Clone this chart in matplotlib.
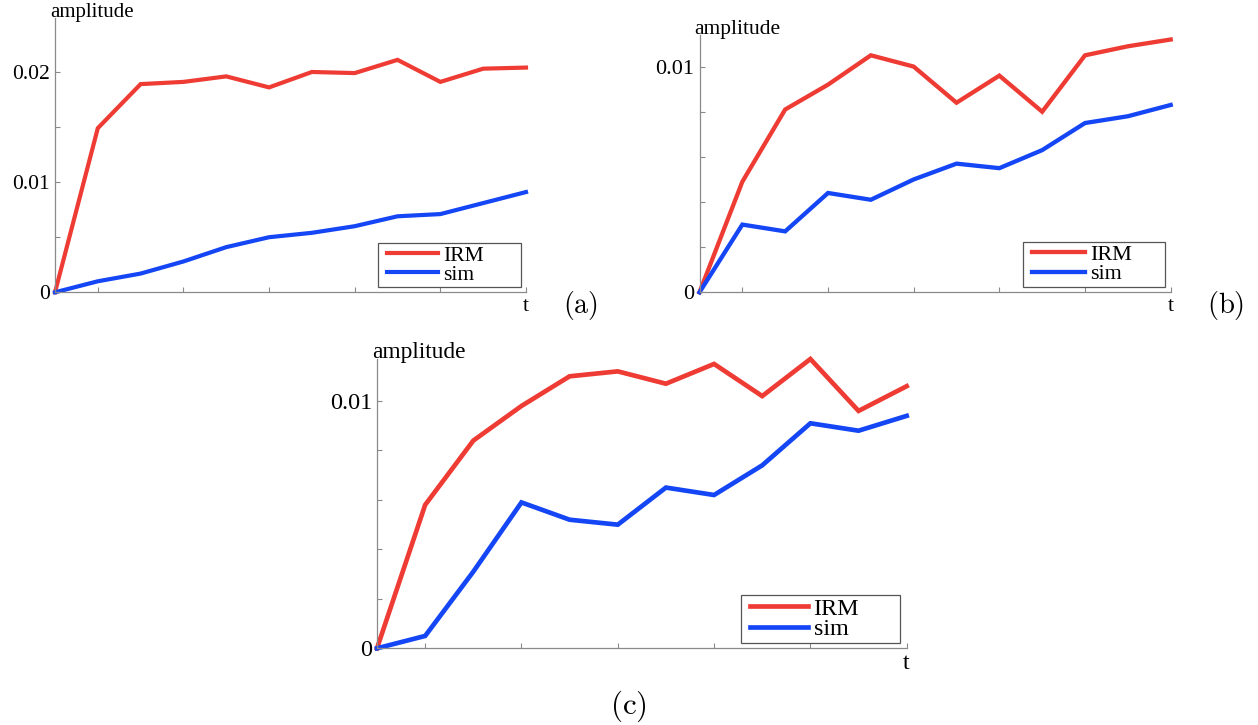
import numpy as np
import matplotlib
matplotlib.use("Agg")
import matplotlib.pyplot as plt
from matplotlib.lines import Line2D
from matplotlib.legend_handler import HandlerLine2D

# ---- data ----
t = np.arange(12)

irm_a = [0, 0.0149, 0.0189, 0.0191, 0.0196, 0.0186, 0.0200, 0.0199, 0.0211, 0.0191, 0.0203, 0.0204]
sim_a = [0, 0.0010, 0.0017, 0.0028, 0.0041, 0.0050, 0.0054, 0.0060, 0.0069, 0.0071, 0.0081, 0.0091]

irm_b = [0, 0.0049, 0.0081, 0.0092, 0.0105, 0.0100, 0.0084, 0.0096, 0.0080, 0.0105, 0.0109, 0.0112]
sim_b = [0, 0.0030, 0.0027, 0.0044, 0.0041, 0.0050, 0.0057, 0.0055, 0.0063, 0.0075, 0.0078, 0.0083]

irm_c = [0, 0.0058, 0.0084, 0.0098, 0.0110, 0.0112, 0.0107, 0.0115, 0.0102, 0.0117, 0.0096, 0.0106]
sim_c = [0, 0.0005, 0.0031, 0.0059, 0.0052, 0.0050, 0.0065, 0.0062, 0.0074, 0.0091, 0.0088, 0.0094]

series_names = ["IRM", "sim"]
xticks = [1, 3, 5, 7, 9, 11]
yticks_a = [0, 0.01, 0.02]
ylabels_a = ["0", "0.01", "0.02"]
yminor_a = [0.005, 0.015]
yticks_bc = [0, 0.01]
ylabels_bc = ["0", "0.01"]
yminor_bc = [0.002, 0.004, 0.006, 0.008]
panel_labels = ["(a)", "(b)", "(c)"]

# ---- style ----
plt.rcParams["font.family"] = ["Liberation Serif", "DejaVu Serif"]
plt.rcParams["mathtext.fontset"] = "cm"

RED = "#EE3B33"
BLUE = "#1446F5"
GRAY = "#8a8a8a"
FW, FH = 1258, 725

fig = plt.figure(figsize=(FW / 100, FH / 100), dpi=100)


def frac_rect(l, r, b, tp):
    return [l / FW, 1 - b / FH, (r - l) / FW, (b - tp) / FH]


panels = [
    dict(irm=irm_a, sim=sim_a, ymax=0.0249, yt=yticks_a, yl=ylabels_a, ym=yminor_a,
         px=(55, 526, 292.3, 18), leg=(378.3, 520.7, 287.3), lab_xy=(580, 306), s=1.0),
    dict(irm=irm_b, sim=sim_b, ymax=0.0114, yt=yticks_bc, yl=ylabels_bc, ym=yminor_bc,
         px=(699.5, 1170.7, 292.3, 35), leg=(1023, 1165, 287), lab_xy=(1226, 306), s=1.03),
    dict(irm=irm_c, sim=sim_c, ymax=0.0117, yt=yticks_bc, yl=ylabels_bc, ym=yminor_bc,
         px=(377, 906.7, 648.3, 359), leg=(740.7, 900, 643.3), lab_xy=(628, 706), s=1.12),
]

for p, plab in zip(panels, panel_labels):
    ax = fig.add_axes(frac_rect(*p["px"]))
    s = p["s"]
    lw = 3.0 * s
    ax.plot(t, p["irm"], color=RED, lw=lw, label=series_names[0], clip_on=False,
            solid_joinstyle="miter")
    ax.plot(t, p["sim"], color=BLUE, lw=lw, label=series_names[1], clip_on=False,
            solid_joinstyle="miter")
    ax.set_xlim(0, 11)
    ax.set_ylim(0, p["ymax"])
    for side in ("top", "right"):
        ax.spines[side].set_visible(False)
    for side in ("left", "bottom"):
        ax.spines[side].set_color(GRAY)
        ax.spines[side].set_linewidth(0.9)
    ax.set_xticks(xticks)
    ax.set_xticklabels([])
    ax.set_yticks(p["yt"])
    ax.set_yticklabels(p["yl"])
    ax.set_yticks(p["ym"], minor=True)
    ax.tick_params(axis="both", which="both", direction="in", length=3.6,
                   width=0.8, color=GRAY, labelsize=15.5 * s, pad=3.6)
    ax.patch.set_alpha(0)

    # axis labels
    ax.annotate("amplitude", xy=(0, 1), xycoords="axes fraction",
                xytext=(-3.5, 0.5), textcoords="offset points",
                ha="left", va="baseline", fontsize=15 * s)
    ax.annotate("t", xy=(1, 0), xycoords="axes fraction",
                xytext=(0, -3.5), textcoords="offset points",
                ha="center", va="top", fontsize=15.5 * s)

    # legend
    lx0, lx1, lb = p["leg"]
    fs = 15.5 * s
    leg = ax.legend(
        loc="lower left",
        bbox_to_anchor=(lx0 / FW, 1 - lb / FH, (lx1 - lx0) / FW, 0.01),
        bbox_transform=fig.transFigure,
        mode="expand", borderaxespad=0, fontsize=fs,
        handlelength=2.66, handletextpad=0.24, borderpad=0.12,
        labelspacing=-0.05, fancybox=False, framealpha=1,
        edgecolor="#555555",
        handler_map={Line2D: HandlerLine2D(xpad=0.28)},
    )
    leg.get_frame().set_linewidth(0.9)

    # panel label
    fig.text(p["lab_xy"][0] / FW, 1 - p["lab_xy"][1] / FH,
             r"$\mathrm{" + plab + "}$", ha="center", va="center",
             fontsize=20 * s)

fig.savefig("out.png", dpi=100)
